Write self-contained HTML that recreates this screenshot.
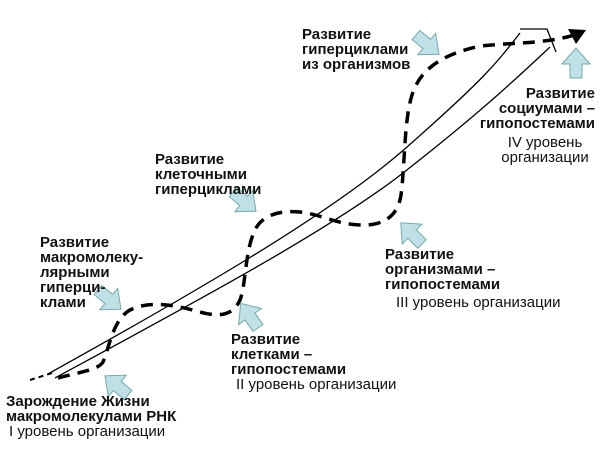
<!DOCTYPE html><html><head><meta charset="utf-8"><style>
body{margin:0;width:600px;height:450px;background:#fff;overflow:hidden;position:relative;font-family:"Liberation Sans",sans-serif}
.t{position:absolute;font-size:15px;line-height:15px;color:#111;white-space:nowrap}
.b{font-weight:bold}
</style></head><body>
<svg width="600" height="450" style="position:absolute;left:0;top:0">
<defs><polygon id="ar" points="0,-6 14,-6 14,-14 30,0 14,14 14,6 0,6" fill="#bfe0e6" stroke="#7aa" stroke-width="1"/></defs>
<g fill="none" stroke="#000" stroke-width="1.3">
<path d="M48,374 C190,295 330,215 407,147 S495,65 520,33"/>
<path d="M55,378 C190,305 330,230 403,173 S515,80 550,47"/>
<path d="M520,29 L547,29 L556,52"/>
</g>
<path d="M30,380 L52,373" stroke="#000" stroke-width="2" stroke-dasharray="5,4" fill="none"/>
<path d="M58,378 C80,372 98,370 103,362 C110,345 113,320 130,310 C150,300 175,305 200,312 C215,316 232,318 240,300 C246,285 245,250 255,230 C262,215 280,210 300,212 C320,214 335,224 360,225 C385,226 398,215 401,195 C405,165 404,120 412,95 C420,70 440,55 480,46 C520,42 545,44 578,34" stroke="#000" stroke-width="3.5" stroke-dasharray="12,8" fill="none"/>
<polygon points="568,29 586,30 576,44" fill="#000"/>
<use href="#ar" transform="translate(98,290) rotate(40)"/>
<use href="#ar" transform="translate(128,395) rotate(-140)"/>
<use href="#ar" transform="translate(233,192) rotate(40)"/>
<use href="#ar" transform="translate(258,328) rotate(-125)"/>
<use href="#ar" transform="translate(422,244) rotate(-135)"/>
<use href="#ar" transform="translate(416,35) rotate(40)"/>
<use href="#ar" transform="translate(576,78) rotate(-90)"/>
</svg>
<div class="t b" style="left:302px;top:27px">Развитие<br>гиперциклами<br>из организмов</div>
<div class="t b" style="right:5px;top:86px;text-align:right">Развитие<br>социумами –<br>гипопостемами</div>
<div class="t" style="left:495px;top:135px;text-align:center;width:100px">IV уровень<br>организации</div>
<div class="t b" style="left:155px;top:152px">Развитие<br>клеточными<br>гиперциклами</div>
<div class="t b" style="left:385px;top:247px">Развитие<br>организмами –<br>гипопостемами</div>
<div class="t" style="left:396px;top:295px">III уровень организации</div>
<div class="t b" style="left:40px;top:235px">Развитие<br>макромолеку-<br>лярными<br>гиперци-<br>клами</div>
<div class="t b" style="left:231px;top:332px">Развитие<br>клетками –<br>гипопостемами</div>
<div class="t" style="left:236px;top:377px">II уровень организации</div>
<div class="t b" style="left:6px;top:394px">Зарождение Жизни<br>макромолекулами РНК</div>
<div class="t" style="left:9px;top:424px">I уровень организации</div>
</body></html>
